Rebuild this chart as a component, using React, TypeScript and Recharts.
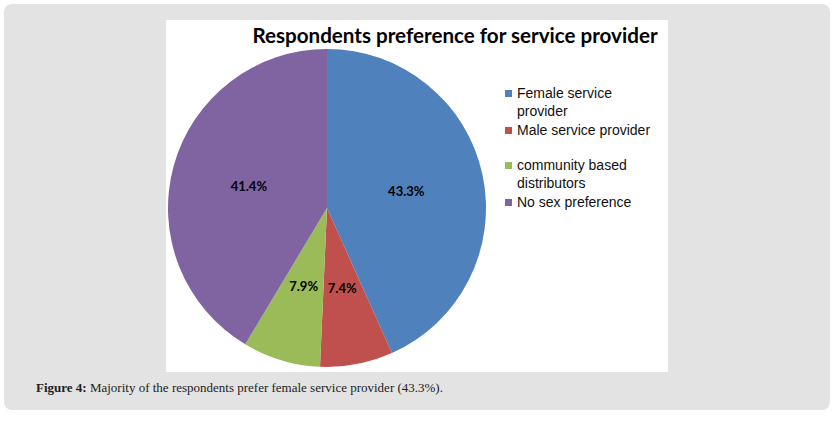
import { PieChart, Pie, Cell, Legend } from 'recharts'

const categories = ['Female service provider', 'Male service provider', 'community based distributors', 'No sex preference']
const shares = [43.3, 7.4, 7.9, 41.4]
const colors = ['#4F81BD', '#C0504D', '#9BBB59', '#8064A2']

const data = categories.map((name, i) => ({ name, value: shares[i] }))

const RAD = Math.PI / 180

function SliceLabel(props: any) {
  const { cx, cy, midAngle, outerRadius, value } = props
  const r = outerRadius * 0.51
  const x = cx + r * Math.cos(-midAngle * RAD)
  const y = cy + r * Math.sin(-midAngle * RAD)
  return (
    <text x={x} y={y} textAnchor="middle" dominantBaseline="central" fill="#000" fontFamily="Lato" fontWeight={700} fontSize={13}>
      {value.toFixed(1)}%
    </text>
  )
}

function LegendBox(props: any) {
  const items = [...(props.payload || [])].sort(
    (a: any, b: any) => categories.indexOf(a.value) - categories.indexOf(b.value)
  )
  return (
    <div style={{ fontFamily: '"Liberation Sans"', fontSize: 14, color: '#111', lineHeight: '18px' }}>
      {items.map((it: any, i: number) => (
        <div key={it.value} style={{ display: 'flex', alignItems: 'flex-start', marginBottom: i === 1 ? 17 : 1 }}>
          <span style={{ width: 7, height: 7, background: it.color, marginTop: 6, marginRight: 5, flexShrink: 0 }} />
          <span style={{ width: 145 }}>{it.value}</span>
        </div>
      ))}
    </div>
  )
}

export default function App() {
  return (
    <div style={{ position: 'absolute', left: 0, top: 0, width: 840, height: 421, background: '#fff' }}>
      <div style={{ position: 'absolute', left: 4, top: 4, width: 826, height: 406, borderRadius: 8, background: '#e3e3e3' }} />
      <div style={{ position: 'absolute', left: 166, top: 20, width: 502, height: 352, background: '#fff' }}>
        <div style={{ position: 'absolute', left: 0, top: 3, width: 578, textAlign: 'center', fontFamily: 'Lato', fontWeight: 700, fontSize: 20.6, color: '#000', whiteSpace: 'nowrap' }}>
          Respondents preference for service provider
        </div>
        <PieChart width={502} height={352} margin={{ top: 0, right: 0, bottom: 0, left: 0 }}>
          <Pie
            data={data}
            dataKey="value"
            nameKey="name"
            cx={161}
            cy={188}
            outerRadius={159}
            startAngle={90}
            endAngle={-270}
            stroke="none"
            label={SliceLabel}
            labelLine={false}
            isAnimationActive={false}
          >
            {data.map((d, i) => (
              <Cell key={d.name} fill={colors[i]} />
            ))}
          </Pie>
          <Legend
            layout="vertical"
            content={LegendBox}
            wrapperStyle={{ left: 339, top: 64, width: 160 }}
          />
        </PieChart>
      </div>
      <div style={{ position: 'absolute', left: 36, top: 380, fontFamily: '"Liberation Serif"', fontSize: 13, color: '#222', whiteSpace: 'nowrap' }}>
        <b>Figure 4:</b> Majority of the respondents prefer female service provider (43.3%).
      </div>
    </div>
  )
}
